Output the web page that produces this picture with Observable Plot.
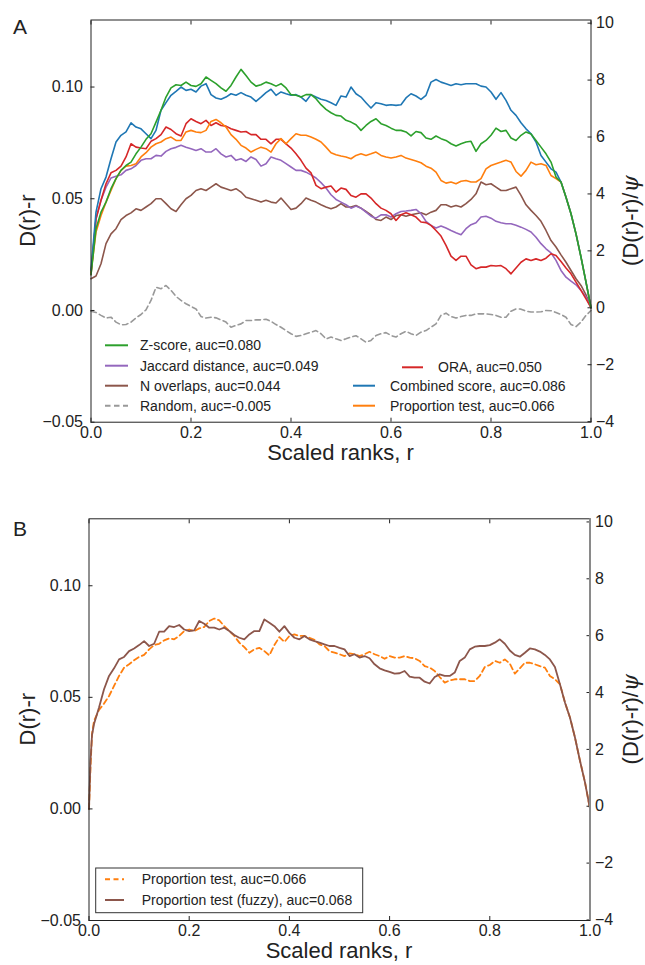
<!DOCTYPE html>
<html><head><meta charset="utf-8">
<script src="https://cdn.jsdelivr.net/npm/d3@7"></script>
<script src="https://cdn.jsdelivr.net/npm/@observablehq/plot@0.6"></script>
<style>
html,body{margin:0;padding:0;background:#fff;}
#wrap{position:relative;width:645px;height:965px;overflow:hidden;font-family:"Liberation Sans",Arial,Helvetica,sans-serif;}
#wrap > svg{position:absolute;left:0;}
</style></head><body><div id="wrap"></div>
<script>
// ---------- data ----------
const ranks = Array.from({length: 101}, (_, i) => i / 100);   // scaled ranks r (0.01 steps)
const xTicks = [0, 0.2, 0.4, 0.6, 0.8, 1.0];
const leftTicks = [-0.05, 0, 0.05, 0.10];
const rightTicks = [-4, -2, 0, 2, 4, 6, 8, 10];

// Panel A series, D(r)-r at each rank in `ranks`
const zScore = [0.016,0.0366,0.044,0.0485,0.0545,0.059,0.0627,0.0649,0.0664,0.0701,
0.0731,0.0766,0.0791,0.0843,0.0896,0.0955,0.0996,0.101,0.1007,0.1022,
0.1007,0.1003,0.1015,0.1045,0.103,0.1015,0.0996,0.0981,0.1007,0.1045,
0.1079,0.1052,0.1022,0.1004,0.101,0.1022,0.1015,0.1004,0.1015,0.0996,
0.0966,0.0963,0.0955,0.0966,0.0966,0.0948,0.0921,0.09,0.0885,0.0873,
0.087,0.0851,0.0843,0.0831,0.0806,0.0828,0.0846,0.0858,0.0836,0.0828,
0.0816,0.0806,0.0806,0.0799,0.0781,0.0801,0.0796,0.0772,0.0766,0.0781,
0.0769,0.0761,0.0746,0.0736,0.0746,0.0754,0.0757,0.0712,0.0746,0.0761,
0.0784,0.0816,0.0801,0.0806,0.0772,0.0761,0.0784,0.0799,0.079,0.0761,
0.0731,0.0701,0.0664,0.0597,0.0575,0.0507,0.0433,0.0343,0.0239,0.0127,0.0013];

const combined = [0.018,0.044,0.0545,0.0597,0.0679,0.0754,0.0784,0.0799,0.084,0.0821,
0.0813,0.0791,0.0769,0.0806,0.0896,0.093,0.0963,0.0981,0.1,0.0985,
0.099,0.0978,0.1004,0.1015,0.0966,0.0951,0.0945,0.0955,0.097,0.0963,
0.0975,0.0963,0.0955,0.0936,0.0955,0.0975,0.099,0.0963,0.0978,0.097,
0.0963,0.0966,0.0955,0.0936,0.0966,0.0955,0.0945,0.094,0.093,0.0918,
0.096,0.0955,0.1,0.097,0.0955,0.093,0.0906,0.093,0.0925,0.0918,
0.0921,0.0918,0.0921,0.0951,0.097,0.096,0.0945,0.0963,0.1022,0.1034,
0.1022,0.1015,0.1007,0.1015,0.101,0.1015,0.1015,0.1015,0.1004,0.1,
0.0978,0.0945,0.0975,0.094,0.0896,0.0873,0.084,0.0813,0.0791,0.0754,
0.0694,0.0664,0.0634,0.0619,0.0575,0.0507,0.0433,0.0343,0.0239,0.0127,0.0013];

const proportion = [0.017,0.0351,0.0425,0.0485,0.0537,0.059,0.0627,0.0646,0.0649,0.0657,
0.0687,0.0706,0.0731,0.0746,0.0754,0.0769,0.0776,0.0761,0.0761,0.0799,
0.0806,0.0799,0.0796,0.0806,0.0846,0.0855,0.084,0.0821,0.0787,0.0766,
0.0739,0.0727,0.0709,0.0721,0.0731,0.0724,0.0709,0.0746,0.0769,0.0746,
0.0769,0.0791,0.0784,0.0784,0.0776,0.0766,0.0754,0.0731,0.0706,0.0697,
0.0691,0.0687,0.0679,0.0694,0.0701,0.0694,0.0701,0.0709,0.0694,0.0687,
0.0682,0.0687,0.0694,0.0682,0.0676,0.0669,0.0661,0.0646,0.0637,0.0619,
0.0582,0.057,0.0575,0.0567,0.0578,0.0582,0.0575,0.0575,0.059,0.0634,
0.0649,0.0657,0.0664,0.0672,0.0664,0.0622,0.0601,0.0627,0.0664,0.0652,
0.0657,0.0649,0.0604,0.059,0.0575,0.0507,0.0433,0.0343,0.0239,0.0127,0.0013];

const ora = [0.016,0.041,0.0493,0.0567,0.0616,0.0627,0.0646,0.0687,0.0746,0.0731,
0.0727,0.0724,0.0757,0.0769,0.0787,0.0821,0.081,0.0791,0.0781,0.0836,
0.0858,0.0846,0.0836,0.0851,0.0828,0.084,0.0828,0.0825,0.0813,0.0806,
0.0799,0.0801,0.0787,0.0787,0.0766,0.0766,0.0746,0.0766,0.0766,0.0746,
0.0727,0.0701,0.0672,0.0637,0.0616,0.056,0.0545,0.0552,0.0557,0.053,
0.0548,0.0542,0.0515,0.0507,0.0522,0.0522,0.0503,0.0478,0.0458,0.0448,
0.0433,0.0403,0.0428,0.0437,0.0428,0.0418,0.0396,0.0393,0.0381,0.0358,
0.0333,0.0291,0.0243,0.0224,0.0243,0.0243,0.0204,0.0187,0.0194,0.0194,
0.0201,0.0199,0.0201,0.0187,0.0164,0.019,0.0216,0.0231,0.0224,0.0231,
0.0224,0.0234,0.0254,0.0246,0.0219,0.019,0.0164,0.0127,0.009,0.0052,0.0013];

const jaccard = [0.017,0.041,0.0493,0.0552,0.0593,0.0601,0.0607,0.0627,0.0634,0.0649,
0.0672,0.0679,0.0679,0.0694,0.0691,0.0712,0.0724,0.073,0.0739,0.0731,
0.0724,0.0716,0.0724,0.0709,0.0709,0.0724,0.0701,0.0687,0.0694,0.0672,
0.0679,0.0667,0.0687,0.0676,0.0646,0.0657,0.0687,0.0679,0.0672,0.0657,
0.0642,0.0627,0.0627,0.0619,0.0607,0.0593,0.0572,0.0548,0.0518,0.0497,
0.0485,0.0473,0.0458,0.0467,0.0458,0.044,0.0422,0.0413,0.0428,0.0428,
0.0418,0.0433,0.0443,0.0445,0.0448,0.0452,0.0433,0.0399,0.0381,0.0369,
0.0378,0.0369,0.0358,0.0348,0.0339,0.0366,0.0384,0.0393,0.0418,0.0422,
0.0413,0.0399,0.0393,0.0388,0.0388,0.0381,0.0373,0.0363,0.0351,0.0328,
0.0299,0.0276,0.0258,0.0224,0.0179,0.0149,0.0131,0.0115,0.009,0.006,0.0013];

const nOverlaps = [0.0142,0.0154,0.0209,0.0299,0.0343,0.0366,0.0407,0.0425,0.0437,0.0455,
0.0448,0.0463,0.0478,0.05,0.05,0.0478,0.0455,0.0443,0.0473,0.05,
0.0515,0.0537,0.0545,0.0537,0.0552,0.0567,0.0552,0.0545,0.0537,0.0545,
0.053,0.0507,0.05,0.0493,0.0485,0.0493,0.0485,0.0481,0.0503,0.0478,
0.0452,0.0458,0.0478,0.0503,0.0493,0.0485,0.0473,0.0463,0.0455,0.0463,
0.0478,0.0463,0.0463,0.047,0.0458,0.0443,0.0428,0.0407,0.0403,0.0418,
0.0407,0.0425,0.0428,0.0422,0.0428,0.0433,0.0437,0.0428,0.044,0.0448,
0.0473,0.0473,0.0463,0.047,0.0463,0.0478,0.0497,0.0522,0.0575,0.0563,
0.0567,0.0552,0.0537,0.0537,0.0545,0.0552,0.0515,0.0473,0.0448,0.0425,
0.0399,0.0358,0.0313,0.0284,0.0249,0.0216,0.0179,0.0142,0.0112,0.007,0.0013];

const randomRank = [-0.0003,-0.0009,-0.0022,-0.0034,-0.003,-0.0052,-0.0064,-0.0063,-0.0052,-0.0033,
-0.0018,0.0003,0.0045,0.0104,0.0097,0.0112,0.009,0.0063,0.0045,0.003,
0.0018,0.0007,-0.0027,-0.0034,-0.003,-0.0033,-0.0042,-0.0052,-0.0075,-0.0067,
-0.006,-0.0045,-0.0045,-0.0042,-0.0042,-0.0039,-0.0049,-0.0063,-0.0075,-0.009,
-0.0104,-0.0116,-0.0112,-0.0104,-0.0097,-0.009,-0.0104,-0.0127,-0.0119,-0.0127,
-0.0134,-0.0127,-0.0119,-0.0113,-0.0127,-0.0142,-0.0134,-0.0112,-0.0104,-0.0099,
-0.0112,-0.0119,-0.0104,-0.0093,-0.0104,-0.0112,-0.0097,-0.009,-0.0075,-0.006,
-0.0022,-0.0012,-0.0027,-0.0034,-0.0027,-0.0022,-0.0022,-0.0015,-0.0015,-0.0015,
-0.0018,-0.0022,-0.003,-0.003,-0.0003,0.0007,0.0006,-0.0003,-0.0007,-0.0007,
-0.0006,0.0,-0.0001,-0.0009,-0.0018,-0.003,-0.0063,-0.0072,-0.0052,-0.0022,0.0];

// Panel B: first points near r=0, then values at ranks 0.01 ... 1.00
const startRanksB = [0, 0.003, 0.006];
const propStartB = [0.0, 0.0186, 0.0335];
const fuzzyStartB = [0.0, 0.0216, 0.033];
const propB = [0.0395,0.0444,0.0472,0.0506,0.0551,0.0596,0.0633,0.0648,0.0666,0.0681,
0.069,0.0715,0.0734,0.074,0.0755,0.0764,0.076,0.0775,0.0797,0.0804,
0.0797,0.0809,0.0815,0.0842,0.0853,0.0845,0.0819,0.0797,0.0775,0.0745,
0.0725,0.07,0.0715,0.0722,0.0707,0.0688,0.0734,0.077,0.0748,0.0775,
0.0782,0.0775,0.0775,0.0767,0.0758,0.0737,0.073,0.0707,0.07,0.0693,
0.0685,0.0697,0.0693,0.0685,0.0693,0.0704,0.0693,0.0685,0.0673,0.0685,
0.0678,0.0678,0.0685,0.0678,0.0675,0.0663,0.064,0.0633,0.0618,0.0591,
0.0566,0.0576,0.0581,0.0581,0.0581,0.0573,0.0573,0.0596,0.0636,0.0645,
0.0663,0.0655,0.067,0.0651,0.0606,0.063,0.0655,0.0655,0.0648,0.064,
0.0633,0.0596,0.0581,0.0559,0.0477,0.041,0.032,0.0216,0.0119,0.0];
const fuzzyB = [0.038,0.0454,0.0536,0.0596,0.063,0.067,0.0681,0.0707,0.0719,0.0734,
0.0752,0.073,0.074,0.0794,0.0794,0.0819,0.0815,0.0824,0.0804,0.0797,
0.08,0.0842,0.083,0.0812,0.0812,0.0804,0.0812,0.0797,0.0779,0.0767,
0.076,0.0782,0.0797,0.0797,0.0849,0.0834,0.0819,0.0794,0.0819,0.0789,
0.0767,0.076,0.0775,0.076,0.0752,0.0745,0.0737,0.073,0.073,0.0722,
0.0715,0.0685,0.0693,0.0678,0.0685,0.0675,0.0648,0.063,0.0621,0.0614,
0.0606,0.0608,0.0618,0.0593,0.0588,0.0588,0.057,0.0562,0.0591,0.0603,
0.0596,0.0596,0.0611,0.0663,0.0678,0.0715,0.0727,0.073,0.073,0.0734,
0.0745,0.076,0.074,0.071,0.069,0.0682,0.07,0.0719,0.0715,0.0705,
0.069,0.067,0.0636,0.0559,0.0477,0.041,0.032,0.0216,0.0119,0.0];

const labelsALeft = ["Z-score, auc=0.080", "Jaccard distance, auc=0.049", "N overlaps, auc=0.044", "Random, auc=-0.005"];
const labelsARight = ["ORA, auc=0.050", "Combined score, auc=0.086", "Proportion test, auc=0.066"];
const labelsB = ["Proportion test, auc=0.066", "Proportion test (fuzzy), auc=0.068"];

// ---------- helpers ----------
const C = {blue:"#1f77b4", orange:"#ff7f0e", green:"#2ca02c", red:"#d62728", purple:"#9467bd", brown:"#8c564b", gray:"#999999"};
const K = 78.5, OFF = 0.0012;            // right axis: (D(r)-r)/psi
const toLeft = v => v / K + OFF;
const minus = s => s.replace("-", "\u2212");
const rows = vals => vals.map((y, i) => ({x: ranks[i], y}));
const rowsB = (startVals, vals) => startRanksB.map((x, i) => ({x, y: startVals[i]})).concat(vals.map((y, i) => ({x: ranks[i + 1], y})));
const FONT = '"Liberation Sans", Arial, Helvetica, sans-serif';

function panel({series, height, mt, mb, ml, mr, sw, grayRight}) {
  const marks = [];
  for (const s of series) {
    marks.push(Plot.line(s.data, {x: "x", y: "y", stroke: s.color, strokeWidth: sw, strokeDasharray: s.dash || null}));
  }
  marks.push(
    Plot.frame({stroke: "#222", strokeWidth: 1}),
    Plot.axisX(xTicks, {anchor: "bottom", tickSize: 4, dy: -4, text: null, label: null}),
    Plot.axisX(xTicks, {anchor: "top", tickSize: 4, dy: 4, text: null, label: null}),
    Plot.axisX(xTicks, {anchor: "bottom", tickSize: 0, tickPadding: 4, tickFormat: d => d.toFixed(1), fontSize: 16, label: null}),
    Plot.axisY(leftTicks, {anchor: "left", tickSize: 4, dx: 4, text: null, label: null}),
    Plot.axisY(leftTicks, {anchor: "left", tickSize: 0, tickPadding: 8, tickFormat: d => minus(d.toFixed(2)), fontSize: 16, label: null}),
    Plot.axisY(rightTicks.map(toLeft), {anchor: "right", tickSize: 4, dx: -4, text: null, label: null}),
    Plot.axisY(rightTicks.map(toLeft), {anchor: "right", tickSize: 0, tickPadding: 5, tickFormat: d => minus(String(Math.round((d - OFF) * K))), fontSize: 16, label: null})
  );
  if (grayRight) marks.push(Plot.ruleX([1], {stroke: "#8a8a8a", strokeWidth: 2}));
  return Plot.plot({
    width: 645, height,
    marginTop: mt, marginBottom: mb, marginLeft: ml, marginRight: mr,
    x: {domain: [0, 1]}, y: {domain: [-0.05, 0.13]},
    style: {fontFamily: FONT, fontSize: "16px", color: "#222", background: "transparent", overflow: "visible"},
    marks
  });
}

const wrap = document.getElementById("wrap");

const svgA = panel({
  height: 470, mt: 19.5, mb: 48.3, ml: 90.5, mr: 54.5, sw: 1.6,
  series: [
    {data: rows(randomRank), color: C.gray, dash: "5.5,3.5"},
    {data: rows(nOverlaps), color: C.brown},
    {data: rows(jaccard), color: C.purple},
    {data: rows(ora), color: C.red},
    {data: rows(proportion), color: C.orange},
    {data: rows(combined), color: C.blue},
    {data: rows(zScore), color: C.green}
  ]
});
svgA.style.top = "0px";
wrap.appendChild(svgA);

const svgB = panel({
  height: 465, mt: 18.3, mb: 45, ml: 88.5, mr: 55.5, sw: 1.8, grayRight: true,
  series: [
    {data: rowsB(propStartB, propB), color: C.orange, dash: "5.5,3.5"},
    {data: rowsB(fuzzyStartB, fuzzyB), color: C.brown}
  ]
});
svgB.style.top = "500px";
wrap.appendChild(svgB);

// ---------- overlay: panel letters, axis titles, legends ----------
const ov = d3.select(wrap).append("svg").attr("width", 645).attr("height", 965)
  .style("top", "0px").style("font-family", FONT).style("fill", "#222");

function titles(offY, plotTop, plotBottom, left, right, letter) {
  const cy = (plotTop + plotBottom) / 2;
  ov.append("text").attr("x", 13).attr("y", offY + 34).attr("font-size", 21).text(letter);
  ov.append("text").attr("transform", `translate(35,${cy}) rotate(-90)`).attr("text-anchor", "middle").attr("font-size", 22).text("D(r)-r");
  const rt = ov.append("text").attr("transform", `translate(638,${cy}) rotate(-90)`).attr("text-anchor", "middle").attr("font-size", 22);
  rt.append("tspan").text("(D(r)-r)/");
  rt.append("tspan").attr("font-family", '"DejaVu Serif", serif').attr("font-style", "italic").text("\u03c8");
  ov.append("text").attr("x", (left + right) / 2).attr("y", plotBottom + 38).attr("text-anchor", "middle").attr("font-size", 22).text("Scaled ranks, r");
}
titles(0, 19.5, 421.7, 90.5, 590.5, "A");
titles(502, 518.3, 920, 88.5, 589.5, "B");

function legendEntry(x1, x2, tx, y, color, dash, label, fs) {
  ov.append("line").attr("x1", x1).attr("x2", x2).attr("y1", y).attr("y2", y)
    .attr("stroke", color).attr("stroke-width", 2).attr("stroke-dasharray", dash || null);
  ov.append("text").attr("x", tx).attr("y", y).attr("dy", "0.35em").attr("font-size", fs).text(label);
}
const leftColors = [C.green, C.purple, C.brown, C.gray];
const leftY = [345.3, 365.7, 385.7, 405.7];
labelsALeft.forEach((l, i) => legendEntry(105, 128, 140, leftY[i], leftColors[i], i === 3 ? "5.5,3.5" : null, l, 14));
legendEntry(402, 423, 438, 367.3, C.red, null, labelsARight[0], 14);
legendEntry(353, 375, 390, 385.7, C.blue, null, labelsARight[1], 14);
legendEntry(353, 375, 390, 405.7, C.orange, null, labelsARight[2], 14);

ov.append("rect").attr("x", 95.7).attr("y", 868).attr("width", 267).attr("height", 44.7)
  .attr("fill", "#fff").attr("stroke", "#333").attr("stroke-width", 1);
legendEntry(105, 124, 141.7, 879.3, C.orange, "5,3.5", labelsB[0], 14);
legendEntry(105, 124, 141.7, 900, C.brown, null, labelsB[1], 14);
</script></body></html>
